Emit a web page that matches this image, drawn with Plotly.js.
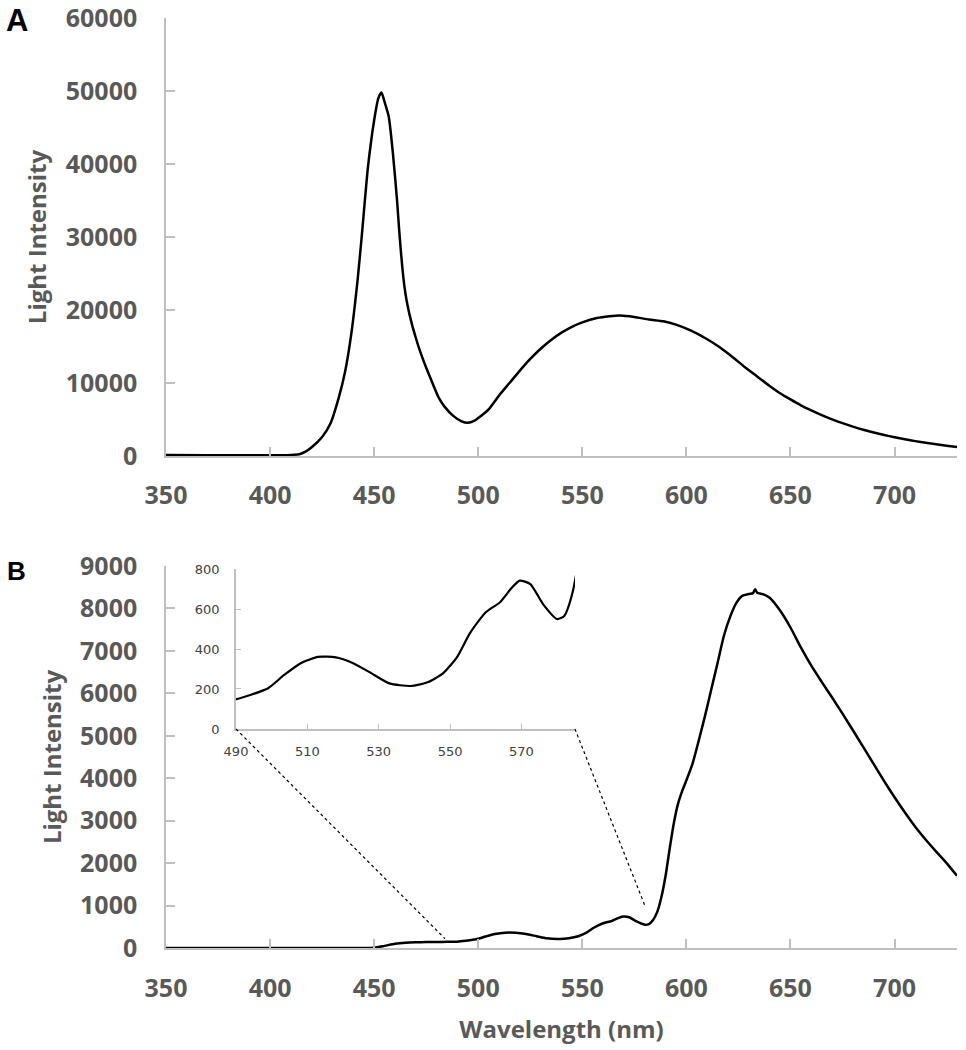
<!DOCTYPE html>
<html>
<head>
<meta charset="utf-8">
<script src="https://cdn.plot.ly/plotly-3.0.1.min.js"></script>
<style>body{margin:0;background:#fff}</style>
</head>
<body>
<div id="chart" style="width:966px;height:1050px"></div>
<script>
// panel A spectrum
let wlA = [350, 370, 390, 405, 410, 414, 417, 420, 425, 429, 433, 436, 439, 442, 444, 447, 450, 452, 453.5, 455, 457, 459, 461, 462, 463, 464, 465, 466, 468, 470, 472, 475, 478, 481, 484, 488, 492, 495, 498,
  500, 505, 510, 515, 520, 525, 530, 535, 540, 545, 550, 557, 563, 568, 575, 582, 589, 595, 602, 610, 616, 622, 628, 634, 640, 645, 650, 655, 660, 665, 670, 675, 680, 685, 690, 695, 700, 705, 710, 715, 720, 725, 730];
let intA = [150, 120, 100, 110, 150, 250, 600, 1200, 2600, 4450, 8000, 11500, 16700, 24000, 30000, 39500, 46000, 49000, 49800, 48500, 46500, 41500, 35000, 31000, 27500, 24500, 22300, 20700, 18200, 16200, 14400, 12100, 10000, 8000, 6700, 5500, 4750, 4550, 4800,
  5200, 6400, 8300, 10000, 11700, 13300, 14700, 15900, 16900, 17700, 18300, 18900, 19150, 19250, 19050, 18700, 18450, 18000, 17200, 16000, 14900, 13600, 12200, 10900, 9600, 8600, 7750, 6950, 6250, 5600, 5020, 4500, 4030, 3600, 3220, 2880, 2570, 2290, 2040, 1810, 1600, 1400, 1220];

// panel B spectrum (also used for the inset)
let wlB = [350, 400, 440, 450, 455, 460, 465, 470, 475, 480, 485, 490, 494, 499, 503.5, 508, 513, 518, 523, 528, 533, 539, 543.5, 548, 552, 555.5, 560, 564, 567, 569.5, 572.5, 576, 580, 582, 584, 586, 588,
  590, 592, 594, 596, 598, 600, 603, 606, 609, 612, 615, 618, 621, 624, 627, 630, 632, 633, 634, 637, 640, 645, 650, 655, 660, 665, 670, 675, 680, 685, 690, 695, 700, 705, 710, 715, 720, 725, 730];
let intB = [0, 0, 0, 5, 50, 100, 125, 135, 140, 142, 145, 149, 170, 204, 270, 328, 361, 358, 328, 278, 228, 215, 232, 278, 361, 477, 584, 634, 700, 742, 725, 626, 550, 565, 660, 850, 1200,
  1700, 2350, 2950, 3400, 3700, 3950, 4350, 4900, 5480, 6100, 6720, 7350, 7800, 8130, 8300, 8340, 8360, 8450, 8370, 8330, 8250, 7950, 7550, 7080, 6650, 6270, 5900, 5520, 5130, 4730, 4330, 3930, 3550, 3190, 2850, 2550, 2270, 2000, 1700];

let ticksA = [0, 10000, 20000, 30000, 40000, 50000, 60000];
let ticksB = [0, 1000, 2000, 3000, 4000, 5000, 6000, 7000, 8000, 9000];
let ticksX = [350, 400, 450, 500, 550, 600, 650, 700];
let ticksInsetX = [490, 510, 530, 550, 570];
let ticksInsetY = [0, 200, 400, 600, 800];

// where the inset zoom points to on the main curve
let zoomLeft = [484, 222];
let zoomRight = [580, 1006];

let domA = [0.529, 1];
let domB = [0, 0.4108];
let insetX = [0.0885, 0.517];
let insetY = [0.2355, 0.4075];
let xRange = [350, 730];

let grey = '#595959';
let axisCol = '#bfbfbf';
let tickFont = {family: 'Open Sans', size: 25, color: grey, weight: 'bold'};
let titleFont = {family: 'Open Sans', size: 24, color: grey, weight: 'bold'};
let insetFont = {family: 'DejaVu Sans', size: 13, color: '#404040'};

function mainAxis(extra) {
  return Object.assign({
    showline: true, linecolor: axisCol, linewidth: 1.5,
    ticks: 'inside', ticklen: 9, tickcolor: axisCol, tickwidth: 1.5,
    showgrid: false, zeroline: false, tickfont: tickFont, tickformat: 'd',
    ticklabeloverflow: 'allow'
  }, extra);
}

var traces = [
  {x: wlA, y: intA, xaxis: 'x', yaxis: 'y', type: 'scatter', mode: 'lines', line: {color: '#000', width: 2.5, shape: 'spline', smoothing: 0.6}},
  {x: wlB, y: intB, xaxis: 'x2', yaxis: 'y2', type: 'scatter', mode: 'lines', line: {color: '#000', width: 2.5, shape: 'spline', smoothing: 0.6}},
  {x: wlB, y: intB, xaxis: 'x3', yaxis: 'y3', type: 'scatter', mode: 'lines', line: {color: '#000', width: 2.2, shape: 'spline', smoothing: 0.6}}
];

function toMainX(p) { return xRange[0] + p * (xRange[1] - xRange[0]); }
function toMainY(p) { return 9000 * (p - domB[0]) / (domB[1] - domB[0]); }

var layout = {
  width: 966, height: 1050,
  margin: {l: 166, r: 9, t: 18, b: 102},
  paper_bgcolor: '#fff', plot_bgcolor: 'rgba(0,0,0,0)',
  showlegend: false,
  xaxis: mainAxis({domain: [0, 1], anchor: 'y', range: xRange, tickvals: ticksX, ticklabelstandoff: 16}),
  yaxis: mainAxis({domain: domA, anchor: 'x', range: [0, 60000], tickvals: ticksA, ticklabelstandoff: 22,
    title: {text: 'Light Intensity', font: titleFont, standoff: 12}}),
  xaxis2: mainAxis({domain: [0, 1], anchor: 'y2', range: xRange, tickvals: ticksX, ticklabelstandoff: 17,
    automargin: true, title: {text: 'Wavelength (nm)', font: titleFont, standoff: 18}}),
  yaxis2: mainAxis({domain: domB, anchor: 'x2', range: [0, 9000], tickvals: ticksB, ticklabelstandoff: 22,
    title: {text: 'Light Intensity', font: titleFont, standoff: 12}}),
  xaxis3: {domain: insetX, anchor: 'y3', range: [490, 585], tickvals: ticksInsetX,
    showline: true, linecolor: axisCol, linewidth: 1.5, ticks: 'inside', ticklen: 5, tickcolor: axisCol,
    showgrid: false, zeroline: false, tickfont: insetFont, ticklabelstandoff: 10},
  yaxis3: {domain: insetY, anchor: 'x3', range: [0, 800], tickvals: ticksInsetY,
    showline: true, linecolor: axisCol, linewidth: 1.5, ticks: 'inside', ticklen: 5, tickcolor: axisCol,
    showgrid: false, zeroline: false, tickfont: insetFont, ticklabelstandoff: 12},
  shapes: [
    {type: 'line', xref: 'x2', yref: 'y2', x0: toMainX(insetX[0]), y0: toMainY(insetY[0]), x1: zoomLeft[0], y1: zoomLeft[1],
      line: {color: '#000', width: 1.2, dash: 'dot'}},
    {type: 'line', xref: 'x2', yref: 'y2', x0: toMainX(insetX[1]), y0: toMainY(insetY[0]), x1: zoomRight[0], y1: zoomRight[1],
      line: {color: '#000', width: 1.2, dash: 'dot'}}
  ],
  annotations: [
    {text: 'A', xref: 'paper', yref: 'paper', x: -0.1884, y: 0.9968, xanchor: 'center', yanchor: 'middle', showarrow: false,
      font: {family: 'Liberation Sans', size: 31, color: '#000', weight: 'bold'}},
    {text: 'B', xref: 'paper', yref: 'paper', x: -0.1896, y: 0.4054, xanchor: 'center', yanchor: 'middle', showarrow: false,
      font: {family: 'Liberation Sans', size: 26, color: '#000', weight: 'bold'}}
  ]
};

Plotly.newPlot('chart', traces, layout, {displayModeBar: false});
</script>
</body>
</html>
